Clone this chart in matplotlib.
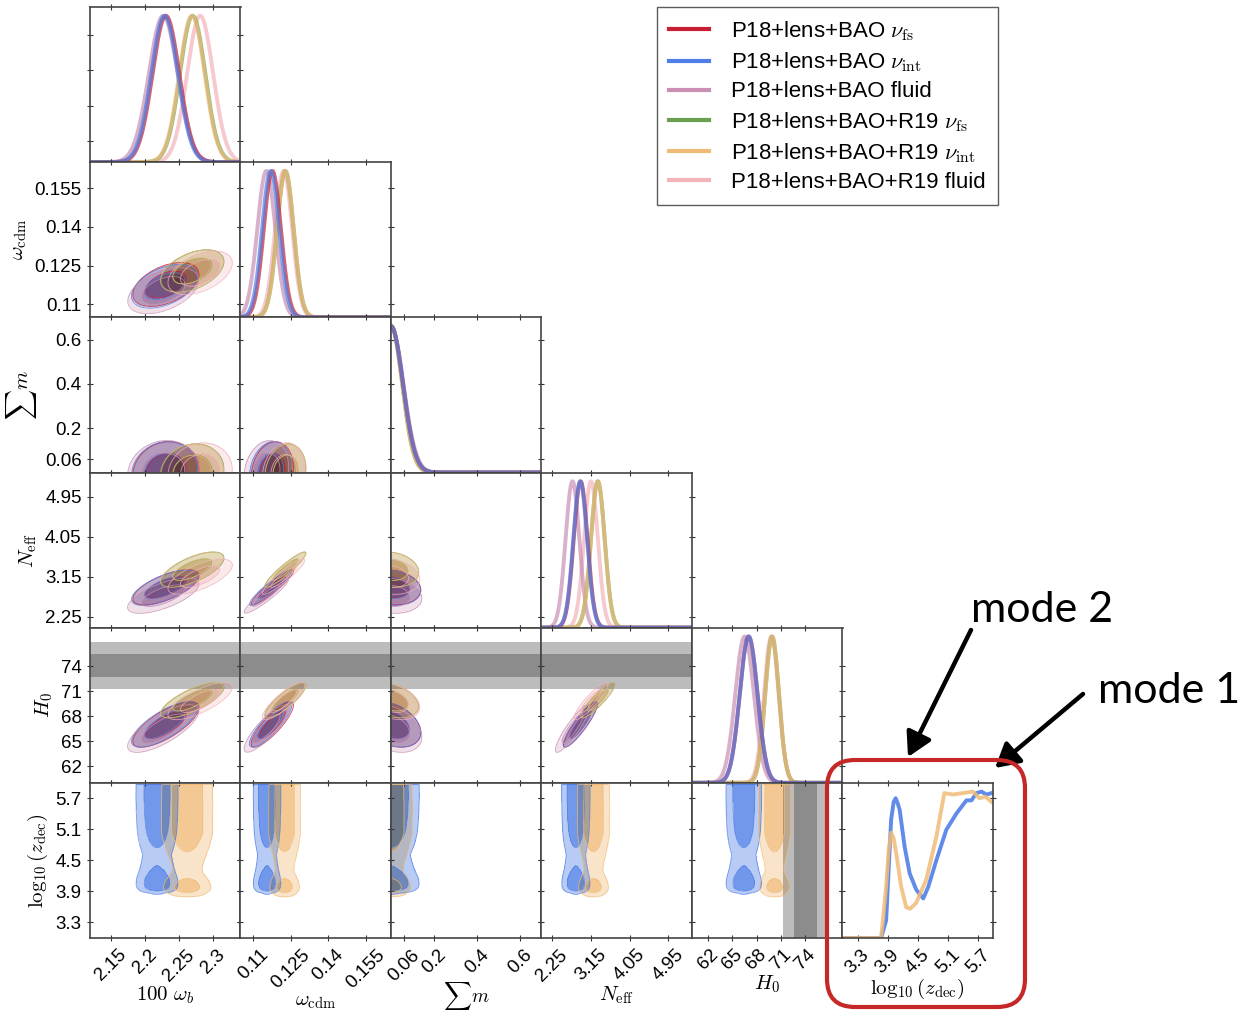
import numpy as np
import matplotlib.pyplot as plt
from matplotlib.colors import to_rgb
from matplotlib.lines import Line2D
from matplotlib.patches import FancyBboxPatch, FancyArrowPatch

plt.rcParams['font.family'] = ['Liberation Sans', 'DejaVu Sans']
plt.rcParams['mathtext.fontset'] = 'cm'

# runs
run_labels = [r'P18+lens+BAO $\nu_{\rm fs}$', r'P18+lens+BAO $\nu_{\rm int}$', 'P18+lens+BAO fluid',
              r'P18+lens+BAO+R19 $\nu_{\rm fs}$', r'P18+lens+BAO+R19 $\nu_{\rm int}$',
              'P18+lens+BAO+R19 fluid']
run_colors = ['#c81e32', '#4f7fe6', '#c98fb4', '#6c9e52', '#f0bb78', '#f2b3ba']
fill_strength = [0.42, 0.62, 0.55, 0.3, 0.68, 0.55]
line_order = [5, 2, 3, 4, 0, 1]

# parameters
param_names = [r'$100\ \omega_b$', r'$\omega_{\rm cdm}$', r'$\sum m$', r'$N_{\rm eff}$', r'$H_0$',
               r'$\log_{10}(z_{\rm dec})$']
param_lo = [2.12, 0.105, 0.0, 2.0, 60.0, 3.0]
param_hi = [2.34, 0.165, 0.70, 5.5, 78.6, 6.0]
param_ticks = [[2.15, 2.2, 2.25, 2.3], [0.11, 0.125, 0.14, 0.155], [0.06, 0.2, 0.4, 0.6],
               [2.25, 3.15, 4.05, 4.95], [62, 65, 68, 71, 74], [3.3, 3.9, 4.5, 5.1, 5.7]]
param_ticklabels = [['2.15', '2.2', '2.25', '2.3'], ['0.11', '0.125', '0.14', '0.155'],
                    ['0.06', '0.2', '0.4', '0.6'], ['2.25', '3.15', '4.05', '4.95'],
                    ['62', '65', '68', '71', '74'], ['3.3', '3.9', '4.5', '5.1', '5.7']]

# posterior means / widths for each run (sum m is a half-normal from zero)
wb_mean = [2.231, 2.229, 2.227, 2.270, 2.269, 2.281]
wb_sigma = [0.0195, 0.0195, 0.021, 0.0185, 0.0185, 0.019]
wcdm_mean = [0.1177, 0.1170, 0.1153, 0.1229, 0.1229, 0.1222]
wcdm_sigma = [0.0034, 0.0034, 0.0036, 0.0033, 0.0033, 0.0034]
mnu_mean = [0.0, 0.0, 0.0, 0.0, 0.0, 0.0]
mnu_sigma = [0.056, 0.056, 0.058, 0.052, 0.052, 0.054]
neff_mean = [2.91, 2.90, 2.72, 3.31, 3.31, 3.15]
neff_sigma = [0.16, 0.16, 0.16, 0.16, 0.16, 0.16]
h0_mean = [67.0, 67.0, 66.5, 69.9, 69.9, 69.8]
h0_sigma = [1.1, 1.1, 1.15, 0.85, 0.85, 0.9]

# correlation coefficients between 100wb, wcdm, sum m, Neff, H0
corr = [[1.00, 0.45, 0.10, 0.66, 0.74],
        [0.45, 1.00, 0.15, 0.93, 0.85],
        [0.10, 0.15, 1.00, -0.15, -0.35],
        [0.66, 0.93, -0.15, 1.00, 0.90],
        [0.74, 0.85, -0.35, 0.90, 1.00]]

# log10(z_dec) marginals for the interacting runs
zdec_int = [3.0, 3.77, 3.87, 3.92, 3.97, 4.02, 4.06, 4.10, 4.14, 4.24, 4.34, 4.47, 4.61,
            4.71, 4.87, 5.07, 5.27, 5.47, 5.57, 5.67, 5.77, 5.87, 5.97]
pdf_int = [0.0, 0.0, 0.12, 0.47, 0.81, 0.93, 0.955, 0.92, 0.875, 0.62, 0.44, 0.33, 0.27,
           0.35, 0.53, 0.74, 0.85, 0.94, 0.94, 0.99, 1.0, 0.98, 0.99]
zdec_r19 = [3.0, 3.77, 3.87, 3.92, 3.97, 4.02, 4.07, 4.17, 4.27, 4.35, 4.47, 4.67, 4.87,
            5.03, 5.2, 5.4, 5.6, 5.73, 5.85, 5.97]
pdf_r19 = [0.0, 0.0, 0.35, 0.60, 0.72, 0.68, 0.58, 0.35, 0.21, 0.20, 0.24, 0.40, 0.69,
           0.99, 0.98, 0.99, 1.0, 0.955, 0.965, 0.93]

# centres / widths of the other parameters in the z_dec row
zrow_int_center = [2.218, 0.1156, 0.0, 2.80, 66.4]
zrow_int_sigma = [0.014, 0.0025, 0.06, 0.15, 1.0]
zrow_r19_center = [2.262, 0.1226, 0.0, 3.21, 70.2]
zrow_r19_sigma = [0.017, 0.0029, 0.045, 0.17, 0.9]

# R19 local H0
h0_r19, h0_r19_err = 74.03, 1.42

means = np.array([wb_mean, wcdm_mean, mnu_mean, neff_mean, h0_mean])
sigmas = np.array([wb_sigma, wcdm_sigma, mnu_sigma, neff_sigma, h0_sigma])
n = len(param_names)
NG = 320


def hpd_levels(d):
    flat = np.sort(d.ravel())[::-1]
    cum = np.cumsum(flat)
    cum /= cum[-1]
    return flat[np.searchsorted(cum, 0.954)], flat[np.searchsorted(cum, 0.683)]


def composite(ax, X, Y, dens, cols, strengths, band=None):
    # multiply-blend the 68/95% regions of every run (and the R19 band)
    img = np.ones(X.shape + (3,))
    if band is not None:
        coord = Y if band == 'y' else X
        lo2, hi2 = h0_r19 - 2 * h0_r19_err, h0_r19 + 2 * h0_r19_err
        lo1, hi1 = h0_r19 - h0_r19_err, h0_r19 + h0_r19_err
        g = np.where((coord > lo1) & (coord < hi1), 0.55, np.where((coord > lo2) & (coord < hi2), 0.74, 1.0))
        img *= g[..., None]
    levels = []
    for d, c, s in zip(dens, cols, strengths):
        l95, l68 = hpd_levels(d)
        levels.append((l95, l68))
        rgb = np.array(to_rgb(c))
        a = np.where(d >= l68, s, np.where(d >= l95, 0.5 * s, 0.0))
        img *= 1 - a[..., None] * (1 - rgb)
    ax.imshow(img, extent=(X[0, 0], X[0, -1], Y[0, 0], Y[-1, 0]), origin='lower', aspect='auto',
              interpolation='nearest', zorder=1)
    for d, c, lv in zip(dens, cols, levels):
        ax.contour(X, Y, d, levels=list(lv), colors=[c], linewidths=0.6, alpha=0.8, zorder=2)


def style(ax, i, j):
    ax.set_xlim(param_lo[j], param_hi[j])
    ax.set_ylim(param_lo[i], param_hi[i])
    ax.set_xticks(param_ticks[j])
    ax.set_yticks(param_ticks[i])
    ax.tick_params(direction='inout', length=5, width=0.8, top=True, right=True,
                   labelsize=13.5, colors='#333333', labelcolor='black')
    if i == n - 1:
        ax.set_xticklabels(param_ticklabels[j], rotation=45)
        if j == 2:
            ax.set_xlabel(param_names[j], fontsize=14, labelpad=-3)
        else:
            ax.set_xlabel(param_names[j], fontsize=15, labelpad=0)
    else:
        ax.set_xticklabels([])
    if j == 0 and i > 0:
        ax.set_yticklabels(param_ticklabels[i])
        ax.set_ylabel(param_names[i], fontsize=15)
    else:
        ax.set_yticklabels([])
    for s in ax.spines.values():
        s.set_linewidth(1.2)
        s.set_color('#444444')
        s.set_zorder(5)


fig = plt.figure(figsize=(12.44, 10.14), dpi=100)
gs = fig.add_gridspec(6, 6, left=90 / 1244, right=993 / 1244, top=1 - 7 / 1014,
                      bottom=1 - 938 / 1014, wspace=0, hspace=0)

for i in range(n):
    for j in range(i + 1):
        ax = fig.add_subplot(gs[i, j])
        xs = np.linspace(param_lo[j], param_hi[j], NG)
        ys = np.linspace(param_lo[i], param_hi[i], NG)
        span_i = (param_hi[i] - param_lo[i]) / 1.06

        if i == j and i < n - 1:
            # 1D marginals
            for k in line_order:
                f = np.exp(-0.5 * ((xs - means[i, k]) / sigmas[i, k]) ** 2)
                ax.plot(xs, param_lo[i] + f * span_i, color=run_colors[k], lw=2.8, alpha=0.7)
        elif i == j:
            ax.plot(zdec_int, param_lo[i] + np.array(pdf_int) * span_i, color=run_colors[1],
                    lw=2.8, alpha=0.9)
            ax.plot(zdec_r19, param_lo[i] + np.array(pdf_r19) * span_i, color=run_colors[4],
                    lw=2.8, alpha=0.85)
        elif i < n - 1:
            X, Y = np.meshgrid(xs, ys)
            r = corr[j][i]
            dens = []
            for k in range(len(run_labels)):
                u = (X - means[j, k]) / sigmas[j, k]
                v = (Y - means[i, k]) / sigmas[i, k]
                dens.append(np.exp(-(u * u - 2 * r * u * v + v * v) / (2 * (1 - r * r))))
            composite(ax, X, Y, dens, run_colors, fill_strength, band='y' if i == 4 else None)
        else:
            X, Y = np.meshgrid(xs, ys)
            dens = []
            for zz, pp, cen, sig in [(zdec_int, pdf_int, zrow_int_center, zrow_int_sigma),
                                     (zdec_r19, pdf_r19, zrow_r19_center, zrow_r19_sigma)]:
                pz = np.interp(Y, zz, pp, left=0.0, right=0.0)
                dens.append(pz * np.exp(-0.5 * ((X - cen[j]) / sig[j]) ** 2))
            composite(ax, X, Y, dens, [run_colors[1], run_colors[4]], [0.8, 0.8],
                      band='x' if j == 4 else None)
        style(ax, i, j)

# legend
handles = [Line2D([], [], color=c, lw=3) for c in run_colors]
leg = fig.legend(handles, run_labels, loc='upper left', bbox_to_anchor=(657 / 1244, 1 - 7 / 1014),
                 fontsize=16, frameon=True, fancybox=False, edgecolor='#333333', borderaxespad=0,
                 handlelength=1.8, handletextpad=1.0, labelspacing=0.33, borderpad=0.55)
leg.get_frame().set_linewidth(1.0)

# decoupling modes
fig.text(971 / 1244, 1 - 622 / 1014, 'mode 2', fontsize=31, family='Lato', va='baseline')
fig.text(1098 / 1244, 1 - 703 / 1014, 'mode 1', fontsize=31, family='Lato', va='baseline')
for tail, head in [((971, 630), (908, 757)), ((1083, 694), (995, 768))]:
    fig.add_artist(FancyArrowPatch((tail[0] / 1244, 1 - tail[1] / 1014), (head[0] / 1244, 1 - head[1] / 1014),
                                   transform=fig.transFigure, arrowstyle='-|>,head_length=0.8,head_width=0.45',
                                   mutation_scale=18, lw=3.2, color='black', shrinkA=0, shrinkB=0))
fig.add_artist(FancyBboxPatch((8.27, 0.07), 1.98, 2.47, boxstyle='round,pad=0,rounding_size=0.28',
                              transform=fig.dpi_scale_trans, fill=False, edgecolor='#c62828', lw=3))

fig.savefig('out.png', dpi=100)
